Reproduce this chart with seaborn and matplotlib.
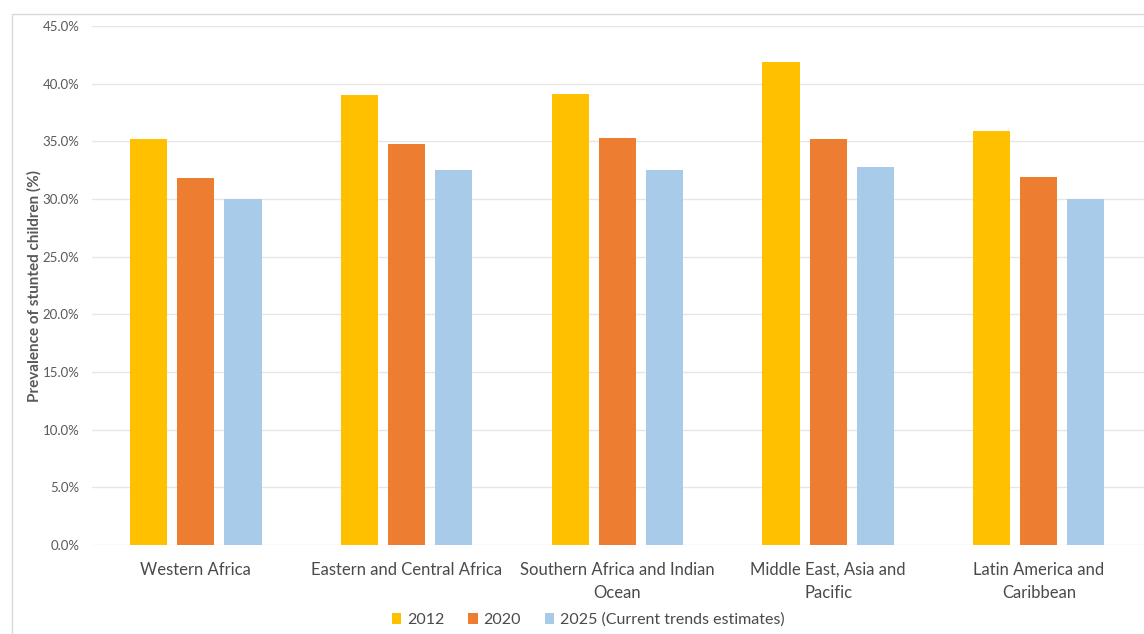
import matplotlib
matplotlib.use("Agg")
import matplotlib.pyplot as plt
import seaborn as sns
import pandas as pd
from matplotlib.patches import Rectangle
from matplotlib.ticker import PercentFormatter

regions = ["Western Africa", "Eastern and Central Africa", "Southern Africa and Indian\nOcean",
           "Middle East, Asia and\nPacific", "Latin America and\nCaribbean"]
series = ["2012", "2020", "2025 (Current trends estimates)"]
v2012 = [35.2, 39.0, 39.1, 41.9, 35.9]
v2020 = [31.8, 34.8, 35.3, 35.2, 31.9]
v2025 = [30.0, 32.5, 32.5, 32.8, 30.0]
colors = ["#FFC000", "#ED7D31", "#A9CBEA"]

rows = []
for s, vals in zip(series, [v2012, v2020, v2025]):
    for r, v in zip(regions, vals):
        rows.append({"region": r, "series": s, "value": v / 100})
df = pd.DataFrame(rows)

sns.set_theme(style="white")
plt.rcParams["font.family"] = ["Lato", "DejaVu Sans"]

W, H = 1144, 634
fig = plt.figure(figsize=(W / 100, H / 100), dpi=100)
left_px = 92
ax = fig.add_axes([left_px / W, 1 - 545 / H, 1 - left_px / W, (545 - 26) / H])

sns.barplot(data=df, x="region", y="value", hue="series", palette=colors,
            width=0.67, gap=0.21, saturation=1, linewidth=0, ax=ax, legend=True)

ax.set_ylim(0, 0.45)
ax.set_yticks([i * 0.05 for i in range(10)])
ax.yaxis.set_major_formatter(PercentFormatter(1.0, decimals=1))
ax.set_xlim(-0.493, 4.499)
ax.grid(axis="y", color="#E6E6E6", linewidth=1)
ax.set_axisbelow(True)
for sp in ax.spines.values():
    sp.set_visible(False)
ax.tick_params(axis="y", labelsize=9.5, labelcolor="#595959", length=0, pad=9)
ax.tick_params(axis="x", labelsize=12, labelcolor="#4A4A4A", length=0, pad=12)
for lbl in ax.get_xticklabels():
    lbl.set_linespacing(1.6)
ax.set_xlabel("")
ax.set_ylabel("Prevalence of stunted children (%)", fontsize=11, fontweight="bold",
              color="#595959")
ax.yaxis.set_label_coords((42 - left_px) / (W - left_px), 0.5)

handles, labels = ax.get_legend_handles_labels()
ax.get_legend().remove()
leg = fig.legend(handles, labels, loc="center", bbox_to_anchor=(588 / W, 1 - 620 / H),
                 ncol=3, frameon=False, fontsize=11.5, handlelength=0.6, handleheight=0.6,
                 handletextpad=0.35, columnspacing=1.5)
for t in leg.get_texts():
    t.set_color("#4A4A4A")

fig.patches.append(Rectangle((12 / W, -0.1), 1.2, 1 - 14 / H + 0.1,
                             transform=fig.transFigure, fill=False,
                             edgecolor="#D9D9D9", linewidth=1))

fig.savefig("out.png", dpi=100)
